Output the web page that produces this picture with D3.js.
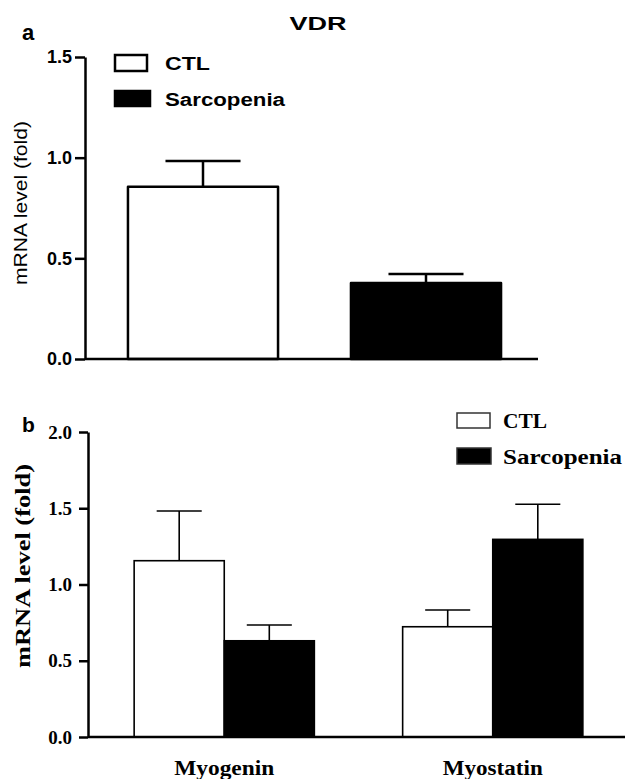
<!DOCTYPE html>
<html>
<head>
<meta charset="utf-8">
<script src="https://cdn.jsdelivr.net/npm/d3@7"></script>
<style>
  html, body { margin: 0; padding: 0; background: #fff; }
  svg { display: block; }
  .sans { font-family: "Liberation Sans", Arial, sans-serif; }
  .serif { font-family: "Liberation Serif", "Times New Roman", serif; }
</style>
</head>
<body>
<svg id="chart"></svg>
<script>
// panel a: VDR
const groupsA = ["CTL", "Sarcopenia"];
const vdrMean = [0.856, 0.377];
const vdrErr = [0.128, 0.045];
const ticksA = [0, 0.5, 1.0, 1.5];

// panel b: Myogenin / Myostatin
const genesB = ["Myogenin", "Myostatin"];
const groupsB = ["CTL", "Sarcopenia"];
const ctlMean = [1.156, 0.723];
const ctlErr = [0.326, 0.110];
const sarcMean = [0.631, 1.296];
const sarcErr = [0.103, 0.230];
const ticksB = [0, 0.5, 1.0, 1.5, 2.0];

const fill = { CTL: "#fff", Sarcopenia: "#000" };

const width = 625, height = 779;
const svg = d3.select("#chart").attr("width", width).attr("height", height);

// ---------- panel a ----------
const axA = 85, endA = 538;
const yA = d3.scaleLinear().domain([0, 1.5]).range([359, 57]);
const xA = d3.scaleBand().domain(groupsA).range([91.5, 537.5])
  .paddingInner(0.327).paddingOuter(0.1635);

const gA = svg.append("g");

gA.append("g")
  .attr("transform", `translate(${axA},0)`)
  .call(d3.axisLeft(yA).tickValues(ticksA).tickFormat(d3.format(".1f"))
    .tickSize(10).tickSizeOuter(0).tickPadding(3))
  .call(g => g.selectAll("path, line").attr("stroke", "#000").attr("stroke-width", 2.5))
  .call(g => g.selectAll("text").attr("class", "sans").attr("font-size", 18)
    .attr("font-weight", "bold").attr("fill", "#000"));

const dataA = groupsA.map((k, i) => ({ key: k, v: vdrMean[i], e: vdrErr[i] }));

gA.selectAll(".err").data(dataA).enter().append("g")
  .each(function (d) {
    const g = d3.select(this);
    const cx = xA(d.key) + xA.bandwidth() / 2;
    const cap = xA.bandwidth() / 4;
    g.append("line").attr("x1", cx).attr("x2", cx)
      .attr("y1", yA(d.v)).attr("y2", yA(d.v + d.e))
      .attr("stroke", "#000").attr("stroke-width", 2.5);
    g.append("line").attr("x1", cx - cap).attr("x2", cx + cap)
      .attr("y1", yA(d.v + d.e)).attr("y2", yA(d.v + d.e))
      .attr("stroke", "#000").attr("stroke-width", 2.5);
  });

gA.selectAll(".bar").data(dataA).enter().append("rect")
  .attr("x", d => xA(d.key))
  .attr("y", d => yA(d.v))
  .attr("width", xA.bandwidth())
  .attr("height", d => yA(0) - yA(d.v))
  .attr("fill", d => fill[d.key])
  .attr("stroke", "#000").attr("stroke-width", 2.5)
  .attr("stroke-linejoin", "round");

gA.append("line").attr("x1", axA).attr("x2", endA)
  .attr("y1", yA(0)).attr("y2", yA(0))
  .attr("stroke", "#000").attr("stroke-width", 2.5);

gA.append("text").attr("class", "sans").attr("x", 318).attr("y", 30)
  .attr("text-anchor", "middle").attr("font-size", 19).attr("font-weight", "bold")
  .attr("textLength", 57).attr("lengthAdjust", "spacingAndGlyphs").text("VDR");

gA.append("text").attr("class", "sans").attr("x", 22).attr("y", 40)
  .attr("font-size", 22).attr("font-weight", "bold").text("a");

gA.append("text").attr("class", "sans")
  .attr("transform", "translate(27,203) rotate(-90)")
  .attr("text-anchor", "middle").attr("font-size", 19)
  .attr("textLength", 164).attr("lengthAdjust", "spacingAndGlyphs")
  .text("mRNA level (fold)");

const legA = [
  { key: "CTL", x: 115, y: 55, w: 32, h: 16, ty: 70, tl: 45 },
  { key: "Sarcopenia", x: 115, y: 91, w: 35, h: 15, ty: 106, tl: 120 }
];
legA.forEach(d => {
  gA.append("rect").attr("x", d.x).attr("y", d.y).attr("width", d.w).attr("height", d.h)
    .attr("fill", fill[d.key]).attr("stroke", "#000").attr("stroke-width", 2.5);
  gA.append("text").attr("class", "sans").attr("x", 165).attr("y", d.ty)
    .attr("font-size", 18).attr("font-weight", "bold")
    .attr("textLength", d.tl).attr("lengthAdjust", "spacingAndGlyphs").text(d.key);
});

// ---------- panel b ----------
const axB = 88, endB = 625;
const yB = d3.scaleLinear().domain([0, 2]).range([737, 432]);
const x0 = d3.scaleBand().domain(genesB).range([90, 627]).padding(0);
const x1 = d3.scaleBand().domain(groupsB).range([0, x0.bandwidth()])
  .paddingInner(0).paddingOuter(0.49);

const gB = svg.append("g");

gB.append("g")
  .attr("transform", `translate(${axB},0)`)
  .call(d3.axisLeft(yB).tickValues(ticksB).tickFormat(d3.format(".1f"))
    .tickSize(9).tickSizeOuter(0).tickPadding(7))
  .call(g => g.selectAll("path, line").attr("stroke", "#000").attr("stroke-width", 2.5))
  .call(g => g.selectAll("text").attr("class", "serif").attr("font-size", 19)
    .attr("font-weight", "bold").attr("fill", "#000"));

const dataB = [];
genesB.forEach((gname, i) => {
  dataB.push({ gene: gname, key: "CTL", v: ctlMean[i], e: ctlErr[i] });
  dataB.push({ gene: gname, key: "Sarcopenia", v: sarcMean[i], e: sarcErr[i] });
});

gB.selectAll(".err").data(dataB).enter().append("g")
  .each(function (d) {
    const g = d3.select(this);
    const cx = x0(d.gene) + x1(d.key) + x1.bandwidth() / 2;
    const cap = x1.bandwidth() / 4;
    g.append("line").attr("x1", cx).attr("x2", cx)
      .attr("y1", yB(d.v)).attr("y2", yB(d.v + d.e))
      .attr("stroke", "#000").attr("stroke-width", 1.6);
    g.append("line").attr("x1", cx - cap).attr("x2", cx + cap)
      .attr("y1", yB(d.v + d.e)).attr("y2", yB(d.v + d.e))
      .attr("stroke", "#000").attr("stroke-width", 1.6);
  });

gB.selectAll(".bar").data(dataB).enter().append("rect")
  .attr("x", d => x0(d.gene) + x1(d.key))
  .attr("y", d => yB(d.v))
  .attr("width", x1.bandwidth())
  .attr("height", d => yB(0) - yB(d.v))
  .attr("fill", d => fill[d.key])
  .attr("stroke", "#000").attr("stroke-width", 1.6);

gB.append("line").attr("x1", axB).attr("x2", endB)
  .attr("y1", yB(0)).attr("y2", yB(0))
  .attr("stroke", "#000").attr("stroke-width", 2.5);

gB.selectAll(".cat").data(genesB).enter().append("text")
  .attr("class", "serif")
  .attr("x", d => x0(d) + x0.bandwidth() / 2).attr("y", 775)
  .attr("text-anchor", "middle").attr("font-size", 20).attr("font-weight", "bold")
  .attr("textLength", 100).attr("lengthAdjust", "spacingAndGlyphs")
  .text(d => d);

gB.append("text").attr("class", "sans").attr("x", 22).attr("y", 432)
  .attr("font-size", 21).attr("font-weight", "bold").text("b");

gB.append("text").attr("class", "serif")
  .attr("transform", "translate(30,566) rotate(-90)")
  .attr("text-anchor", "middle").attr("font-size", 20).attr("font-weight", "bold")
  .attr("textLength", 204).attr("lengthAdjust", "spacingAndGlyphs")
  .text("mRNA level (fold)");

const legB = [
  { key: "CTL", x: 457, y: 413, w: 33, h: 15, ty: 428, tl: 44 },
  { key: "Sarcopenia", x: 457, y: 448, w: 34, h: 16, ty: 464, tl: 119 }
];
legB.forEach(d => {
  gB.append("rect").attr("x", d.x).attr("y", d.y).attr("width", d.w).attr("height", d.h)
    .attr("fill", fill[d.key]).attr("stroke", "#333").attr("stroke-width", 1.5);
  gB.append("text").attr("class", "serif").attr("x", 503).attr("y", d.ty)
    .attr("font-size", 20).attr("font-weight", "bold")
    .attr("textLength", d.tl).attr("lengthAdjust", "spacingAndGlyphs").text(d.key);
});
</script>
</body>
</html>
